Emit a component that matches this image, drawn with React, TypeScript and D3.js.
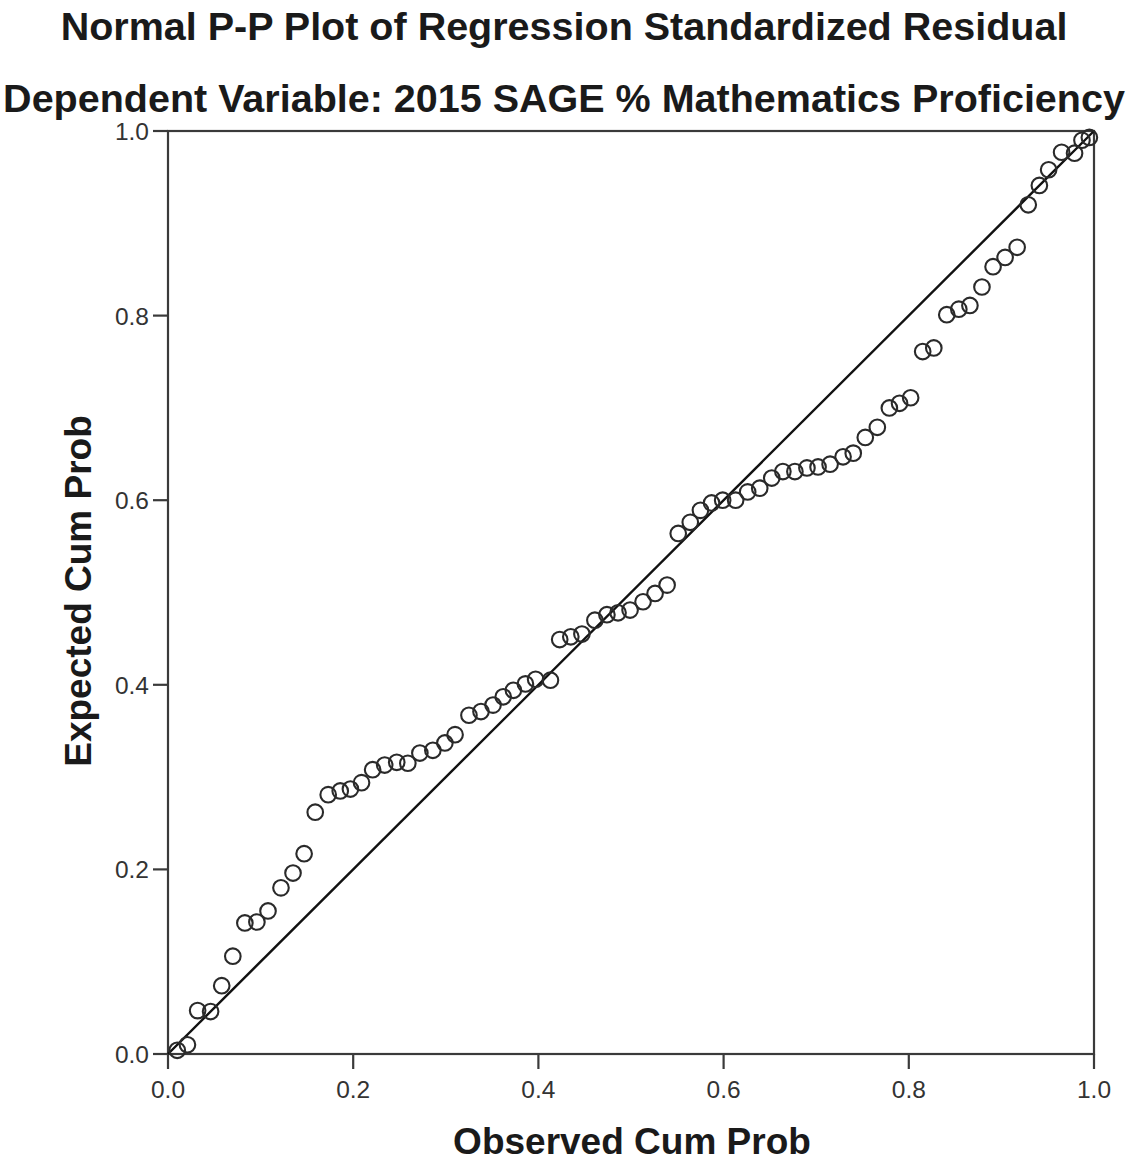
import React from "react";
import * as d3 from "d3";

const titleLines = [
  "Normal P-P Plot of Regression Standardized Residual",
  "Dependent Variable: 2015 SAGE % Mathematics Proficiency",
];
const xAxisTitle = "Observed Cum Prob";
const yAxisTitle = "Expected Cum Prob";
const tickValues = [0, 0.2, 0.4, 0.6, 0.8, 1.0];

const observedCumProb = [
  0.010, 0.021, 0.032, 0.046, 0.058, 0.070, 0.083, 0.096, 0.108, 0.122,
  0.135, 0.147, 0.159, 0.173, 0.186, 0.197, 0.209, 0.221, 0.234, 0.247,
  0.259, 0.272, 0.286, 0.299, 0.310, 0.325, 0.338, 0.351, 0.362, 0.373,
  0.386, 0.397, 0.413, 0.423, 0.435, 0.447, 0.461, 0.474, 0.486, 0.499,
  0.513, 0.526, 0.539, 0.551, 0.564, 0.575, 0.587, 0.599, 0.613, 0.626,
  0.639, 0.652, 0.664, 0.677, 0.690, 0.702, 0.715, 0.729, 0.740, 0.753,
  0.766, 0.779, 0.790, 0.802, 0.815, 0.827, 0.841, 0.854, 0.866, 0.879,
  0.891, 0.904, 0.917, 0.929, 0.941, 0.951, 0.965, 0.979, 0.987, 0.995,
];
const expectedCumProb = [
  0.004, 0.010, 0.047, 0.046, 0.074, 0.106, 0.142, 0.143, 0.155, 0.180,
  0.196, 0.217, 0.262, 0.281, 0.285, 0.287, 0.294, 0.308, 0.313, 0.316,
  0.315, 0.326, 0.329, 0.337, 0.346, 0.367, 0.371, 0.378, 0.387, 0.394,
  0.401, 0.406, 0.405, 0.449, 0.452, 0.455, 0.470, 0.476, 0.478, 0.481,
  0.490, 0.499, 0.508, 0.564, 0.576, 0.589, 0.597, 0.600, 0.600, 0.609,
  0.613, 0.624, 0.631, 0.631, 0.635, 0.636, 0.639, 0.647, 0.651, 0.668,
  0.679, 0.700, 0.705, 0.711, 0.761, 0.765, 0.801, 0.807, 0.811, 0.831,
  0.853, 0.863, 0.874, 0.920, 0.941, 0.958, 0.977, 0.976, 0.990, 0.993,
];

const W = 1128;
const H = 1163;
const left = 168;
const right = 1094;
const top = 131;
const bottom = 1054;

export default function App() {
  React.useEffect(() => {
    document.body.style.margin = "0";
  }, []);
  const x = d3.scaleLinear().domain([0, 1]).range([left, right]);
  const y = d3.scaleLinear().domain([0, 1]).range([bottom, top]);
  const fmt = d3.format(".1f");
  const pts = observedCumProb.map((v, i) => [v, expectedCumProb[i]] as [number, number]);
  const font = "'Liberation Sans', Arial, sans-serif";
  return (
    <svg width={W} height={H} style={{ display: "block", background: "#fff" }}>
      {titleLines.map((t, i) => (
        <text
          key={i}
          x={564}
          y={i === 0 ? 40 : 112}
          textAnchor="middle"
          fontFamily={font}
          fontWeight="bold"
          fontSize={39.5}
          fill="#1a1a1a"
        >
          {t}
        </text>
      ))}
      {/* frame */}
      <rect
        x={left}
        y={top}
        width={right - left}
        height={bottom - top}
        fill="none"
        stroke="#3a3a3a"
        strokeWidth={2.2}
      />
      {/* x ticks */}
      {tickValues.map((t) => (
        <g key={"x" + t}>
          <line x1={x(t)} x2={x(t)} y1={bottom} y2={bottom + 15} stroke="#3a3a3a" strokeWidth={2.2} />
          <text
            x={x(t)}
            y={1098}
            textAnchor="middle"
            fontFamily={font}
            fontSize={24.5}
            fill="#333"
          >
            {fmt(t)}
          </text>
        </g>
      ))}
      {/* y ticks */}
      {tickValues.map((t) => (
        <g key={"y" + t}>
          <line x1={left - 15} x2={left} y1={y(t)} y2={y(t)} stroke="#3a3a3a" strokeWidth={2.2} />
          <text
            x={149}
            y={y(t) + 9}
            textAnchor="end"
            fontFamily={font}
            fontSize={24.5}
            fill="#333"
          >
            {fmt(t)}
          </text>
        </g>
      ))}
      {/* diagonal reference line */}
      <line x1={x(0)} y1={y(0)} x2={x(1)} y2={y(1)} stroke="#111" strokeWidth={2.4} />
      {/* points */}
      {pts.map((p, i) => (
        <circle
          key={i}
          cx={x(p[0])}
          cy={y(p[1])}
          r={7.8}
          fill="none"
          stroke="#2a2a2a"
          strokeWidth={2.1}
        />
      ))}
      {/* axis titles */}
      <text
        x={632}
        y={1154}
        textAnchor="middle"
        fontFamily={font}
        fontWeight="bold"
        fontSize={37}
        fill="#1a1a1a"
      >
        {xAxisTitle}
      </text>
      <text
        transform={`translate(91, 591) rotate(-90)`}
        textAnchor="middle"
        fontFamily={font}
        fontWeight="bold"
        fontSize={37}
        fill="#1a1a1a"
      >
        {yAxisTitle}
      </text>
    </svg>
  );
}
